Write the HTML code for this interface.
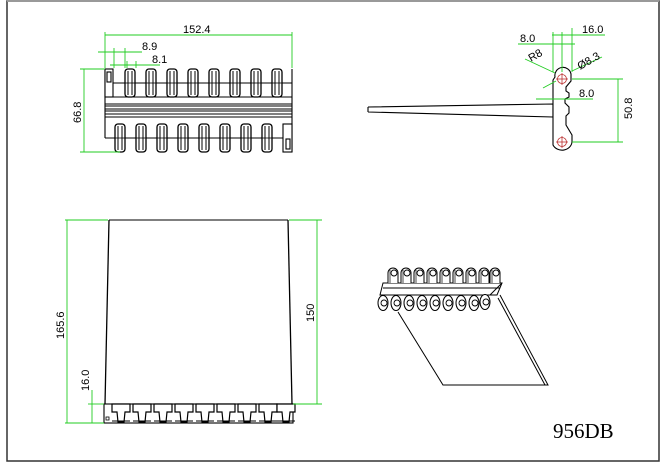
<!DOCTYPE html>
<html><head><meta charset="utf-8"><style>
html,body{margin:0;padding:0;background:#fff;}
svg{display:block;}
text{font-family:"Liberation Sans",sans-serif;font-size:11px;fill:#000;}
</style></head><body>
<svg width="668" height="463" viewBox="0 0 668 463" xmlns="http://www.w3.org/2000/svg">
<defs>
<g id="rt"><rect x="-5" y="0" width="10" height="28" rx="3" fill="#fff" stroke="#000" stroke-width="1.3"/><line x1="-2" y1="2" x2="-2" y2="26" stroke="#000" stroke-width="1"/><line x1="2" y1="2" x2="2" y2="26" stroke="#000" stroke-width="1"/><line x1="-5" y1="14" x2="5" y2="14" stroke="#000" stroke-width="0.8"/></g>
<g id="tooth"><path d="M-9 0 L9 0 L9 8 L4 8 L3 18 L-3 18 L-4 8 L-9 8 Z" fill="#fff" stroke="#000" stroke-width="1.2"/><line x1="-9" y1="17" x2="9" y2="17" stroke="#000" stroke-width="1"/></g>
<g id="iso"><path d="M-5 8 L-5 -2 A5 5 0 0 1 5 -2 L5 8" fill="#fff" stroke="#000" stroke-width="1"/><circle cx="1" cy="-2" r="3" fill="none" stroke="#000" stroke-width="0.9"/><line x1="-3" y1="-5" x2="-3" y2="8" stroke="#000" stroke-width="0.7"/></g>
<g id="iso2"><ellipse cx="0" cy="0" rx="5" ry="7.5" fill="#fff" stroke="#000" stroke-width="1"/><circle cx="1" cy="0" r="3" fill="none" stroke="#000" stroke-width="0.9"/></g>
</defs>
<rect x="7" y="1" width="652" height="460" fill="none" stroke="#333" stroke-width="1.5"/>
<line x1="7" y1="1" x2="659" y2="1" stroke="#999" stroke-width="2"/>

<g stroke="#000" fill="none" stroke-width="1.1">
<line x1="105" y1="83" x2="292" y2="83"/>
<line x1="105" y1="97" x2="292" y2="97"/>
<line x1="105" y1="104" x2="292" y2="104"/>
<line x1="105" y1="106" x2="292" y2="106"/>
<line x1="105" y1="109" x2="292" y2="109"/>
<line x1="105" y1="111" x2="292" y2="111"/>
<line x1="105" y1="114" x2="292" y2="114"/>
<line x1="105" y1="117" x2="292" y2="117"/>
<line x1="105" y1="138" x2="292" y2="138"/>
<line x1="105" y1="69" x2="105" y2="138"/>
<line x1="292" y1="69" x2="292" y2="152"/>
<rect x="105" y="69" width="8" height="28" fill="#fff"/>
<rect x="107" y="72" width="4" height="10"/>
<rect x="283" y="124" width="9" height="28" fill="#fff"/>
<rect x="286" y="139" width="4" height="10"/>
</g>
<use href="#rt" x="130" y="69"/><use href="#rt" x="151" y="69"/><use href="#rt" x="172" y="69"/><use href="#rt" x="193" y="69"/><use href="#rt" x="214" y="69"/><use href="#rt" x="235" y="69"/><use href="#rt" x="256" y="69"/><use href="#rt" x="277" y="69"/>
<use href="#rt" x="120" y="124"/><use href="#rt" x="141" y="124"/><use href="#rt" x="162" y="124"/><use href="#rt" x="183" y="124"/><use href="#rt" x="204" y="124"/><use href="#rt" x="225" y="124"/><use href="#rt" x="246" y="124"/><use href="#rt" x="267" y="124"/>
<g stroke="#2c2" fill="none" stroke-width="0.9">
<line x1="105" y1="35" x2="292" y2="35"/><line x1="105" y1="32" x2="105" y2="68"/><line x1="292" y1="32" x2="292" y2="68"/>
<line x1="98" y1="52" x2="142" y2="52"/><line x1="114" y1="48" x2="114" y2="68"/><line x1="125" y1="48" x2="125" y2="68"/>
<line x1="110" y1="65" x2="160" y2="65"/><line x1="127" y1="61" x2="127" y2="68"/><line x1="136" y1="61" x2="136" y2="68"/>
<line x1="84" y1="69" x2="84" y2="152"/><line x1="80" y1="69" x2="105" y2="69"/><line x1="80" y1="152" x2="120" y2="152"/>
</g>
<text x="183" y="33">152.4</text>
<text x="142" y="50">8.9</text>
<text x="152" y="63">8.1</text>
<text transform="translate(81,123) rotate(-90)">66.8</text>

<g stroke="#000" fill="none" stroke-width="1.1">
<path d="M368 107 L553 104 M368 112 L553 117 M368 107 L368 112 M553 104 L553 117"/>
<path d="M555 77 A8 8 0 0 1 571 74 L571 81 L566 87 L566 91 L569 93 L569 97 L565 99 L565 103 L569 107 L569 113 L566 116 L566 125 L572 135 L572 142 A10 9 0 0 1 553 145 L553 80 Z" fill="#fff"/>
</g>
<g stroke="#b33" fill="none" stroke-width="0.8">
<circle cx="562" cy="79" r="4.5"/><line x1="556" y1="79" x2="568" y2="79"/><line x1="562" y1="73" x2="562" y2="85"/>
<circle cx="562" cy="142" r="4.5"/><line x1="556" y1="142" x2="568" y2="142"/><line x1="562" y1="136" x2="562" y2="148"/>
</g>
<g stroke="#2c2" fill="none" stroke-width="0.9">
<line x1="553" y1="32" x2="553" y2="72"/><line x1="562" y1="32" x2="562" y2="72"/><line x1="572" y1="28" x2="572" y2="72"/>
<line x1="552" y1="35" x2="605" y2="35"/><line x1="518" y1="44" x2="575" y2="44"/>
<line x1="525" y1="59" x2="555" y2="73"/><line x1="572" y1="71" x2="602" y2="57"/><line x1="543" y1="88" x2="556" y2="81"/>
<line x1="536" y1="99" x2="593" y2="99"/>
<line x1="572" y1="79" x2="623" y2="79"/><line x1="572" y1="142" x2="623" y2="142"/><line x1="618" y1="79" x2="618" y2="142"/>
</g>
<text x="520" y="42">8.0</text>
<text x="582" y="33">16.0</text>
<text transform="translate(531,62) rotate(-30)">R8</text>
<text transform="translate(580,70) rotate(-30)">Ø8.3</text>
<text x="579" y="97">8.0</text>
<text transform="translate(632,119) rotate(-90)">50.8</text>

<g stroke="#000" fill="none">
<line x1="109" y1="220" x2="288" y2="220" stroke="#555" stroke-width="1.6"/>
<line x1="109" y1="220" x2="105" y2="404" stroke-width="1.3"/>
<line x1="288" y1="220" x2="292" y2="404" stroke-width="1.3"/>
<rect x="104" y="404" width="189" height="19" fill="#fff" stroke-width="1.1"/>
<rect x="106" y="417" width="3" height="3" stroke-width="0.8"/>
</g>
<use href="#tooth" x="121" y="404"/><use href="#tooth" x="142" y="404"/><use href="#tooth" x="163" y="404"/><use href="#tooth" x="184" y="404"/><use href="#tooth" x="205" y="404"/><use href="#tooth" x="226" y="404"/><use href="#tooth" x="247" y="404"/><use href="#tooth" x="268" y="404"/><use href="#tooth" x="286" y="404"/>
<g stroke="#2c2" fill="none" stroke-width="0.9">
<line x1="65" y1="220" x2="108" y2="220"/><line x1="65" y1="423" x2="104" y2="423"/><line x1="67" y1="220" x2="67" y2="423"/>
<line x1="88" y1="404" x2="104" y2="404"/><line x1="92" y1="390" x2="92" y2="423"/>
<line x1="289" y1="220" x2="322" y2="220"/><line x1="293" y1="404" x2="322" y2="404"/><line x1="317" y1="220" x2="317" y2="404"/>
</g>
<text transform="translate(64,339) rotate(-90)">165.6</text>
<text transform="translate(89,391) rotate(-90)">16.0</text>
<text transform="translate(314,322) rotate(-90)">150</text>

<g stroke="#000" fill="none" stroke-width="1">
<path d="M398 312 L443 385 L545 385"/>
<path d="M500 295 L548 385 L545 385 L498 298"/>
<path d="M383 283 L502 283 L497 295 L380 295 Z" fill="#fff"/>
<line x1="383" y1="288" x2="500" y2="288"/>
<line x1="490" y1="295" x2="502" y2="283"/>
</g>
<use href="#iso" x="393" y="275"/><use href="#iso" x="406" y="275"/><use href="#iso" x="419" y="275"/><use href="#iso" x="432" y="275"/><use href="#iso" x="445" y="275"/><use href="#iso" x="458" y="275"/><use href="#iso" x="471" y="275"/><use href="#iso" x="484" y="275"/><use href="#iso" x="495" y="275"/>
<use href="#iso2" x="383" y="303"/><use href="#iso2" x="396" y="303"/><use href="#iso2" x="409" y="303"/><use href="#iso2" x="422" y="303"/><use href="#iso2" x="435" y="303"/><use href="#iso2" x="448" y="303"/><use href="#iso2" x="461" y="303"/><use href="#iso2" x="474" y="303"/><use href="#iso2" x="485" y="302"/>

<text x="553" y="438" style="font-family:'Liberation Serif',serif;font-size:21px;">956DB</text>
</svg>
</body></html>
